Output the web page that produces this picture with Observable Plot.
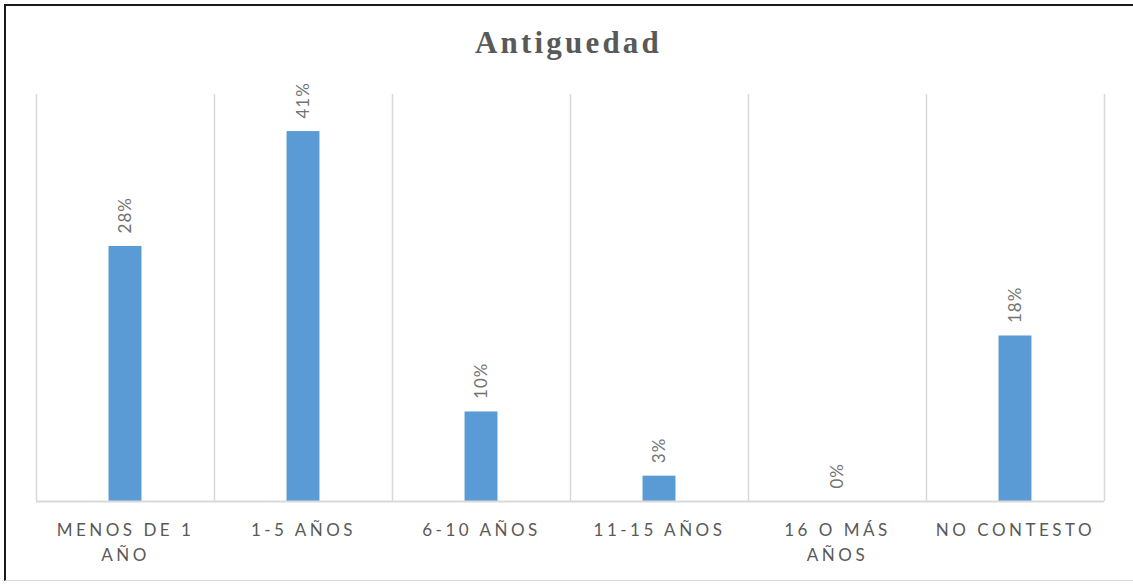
<!DOCTYPE html>
<html>
<head>
<meta charset="utf-8">
<script src="https://cdn.jsdelivr.net/npm/d3@7"></script>
<script src="https://cdn.jsdelivr.net/npm/@observablehq/plot@0.6"></script>
<style>
  html, body { margin: 0; padding: 0; background: #fff; }
  #wrap { position: relative; width: 1133px; height: 584px; overflow: hidden; }
  #frame { position: absolute; left: 4px; top: 4px; width: 1135px; height: 577px;
           border-left: 2px solid #1a1a1a; border-top: 2px solid #1a1a1a; border-bottom: 1px solid #d9d9d9; box-sizing: border-box; }
  #title { position: absolute; left: 0; width: 1137px; top: 25px; text-align: center;
           font-family: "Liberation Serif", "DejaVu Serif", serif; font-weight: bold; font-size: 31px;
           letter-spacing: 3.2px; color: #595959; }
  #chart { position: absolute; left: 0; top: 0; }
</style>
</head>
<body>
<div id="wrap">
  <div id="frame"></div>
  <div id="title">Antiguedad</div>
  <div id="chart"></div>
</div>
<script>
const title = "Antiguedad";
const categories = ["MENOS DE 1 AÑO", "1-5 AÑOS", "6-10 AÑOS", "11-15 AÑOS", "16 O MÁS AÑOS", "NO CONTESTO"];
const tickLabels = ["MENOS DE 1\nAÑO", "1-5 AÑOS", "6-10 AÑOS", "11-15 AÑOS", "16 O MÁS\nAÑOS", "NO CONTESTO"];
const values = [28.2, 40.9, 9.9, 2.8, 0, 18.3];
const valueLabels = ["28%", "41%", "10%", "3%", "0%", "18%"];

const data = categories.map((c, i) => ({i, category: c, value: values[i], label: valueLabels[i]}));
const half = 0.0925;
const boundaries = d3.range(categories.length + 1).map(i => i - 0.5);

const chart = Plot.plot({
  width: 1133,
  height: 584,
  marginTop: 94,
  marginBottom: 83,
  marginLeft: 36,
  marginRight: 29,
  style: {background: "transparent", overflow: "visible"},
  x: {domain: [-0.5, categories.length - 0.5], axis: null},
  y: {domain: [0, 45], axis: null},
  marks: [
    Plot.ruleX(boundaries, {x: d => d, stroke: "#d9d9d9", strokeWidth: 1.5}),
    Plot.rectY(data, {x1: d => d.i - half, x2: d => d.i + half, y1: 0, y2: "value", fill: "#5b9bd5"}),
    Plot.ruleY([0], {x1: -0.5, x2: categories.length - 0.5, stroke: "#d9d9d9", strokeWidth: 2}),
    Plot.text(data, {x: "i", y: "value", text: "label", rotate: -90, textAnchor: "start", dy: -13,
      fill: "#737373", fontSize: 17, fontFamily: "Lato, 'Open Sans', sans-serif", className: "vlab"}),
    Plot.axisX(d3.range(categories.length), {
      anchor: "bottom", tickSize: 0, tickPadding: 17, label: null,
      tickFormat: i => tickLabels[i],
      fontSize: 17, fill: "#595959", fontFamily: "Lato, 'Open Sans', sans-serif",
      lineHeight: 1.45, className: "xlab"
    })
  ]
});
chart.querySelectorAll(".xlab text").forEach(t => t.style.letterSpacing = "3.5px");
chart.querySelectorAll(".vlab text").forEach(t => t.style.letterSpacing = "1px");
document.getElementById("chart").appendChild(chart);
</script>
</body>
</html>
